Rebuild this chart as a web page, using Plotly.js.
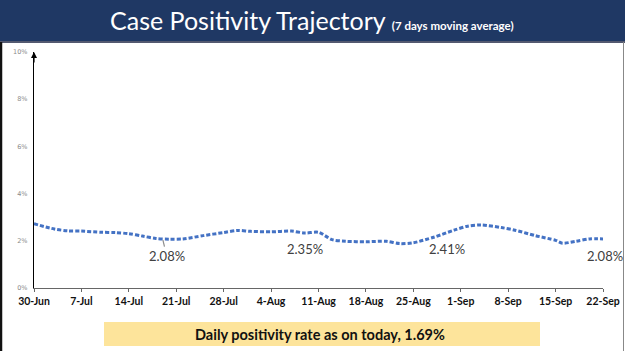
<!DOCTYPE html>
<html><head><meta charset="utf-8">
<script src="https://cdn.plot.ly/plotly-3.0.1.min.js"></script>
<style>html,body{margin:0;padding:0;background:#fff;}#chart{width:625px;height:351px;}</style>
</head><body><div id="chart"></div>
<script>
const dates = ["2020-06-30","2020-07-03","2020-07-05","2020-07-07","2020-07-10","2020-07-12","2020-07-14","2020-07-16","2020-07-18","2020-07-20","2020-07-22","2020-07-25","2020-07-28","2020-07-30","2020-08-01","2020-08-04","2020-08-07","2020-08-09","2020-08-11","2020-08-13","2020-08-15","2020-08-18","2020-08-21","2020-08-23","2020-08-25","2020-08-28","2020-08-31","2020-09-02","2020-09-04","2020-09-07","2020-09-09","2020-09-12","2020-09-15","2020-09-16","2020-09-18","2020-09-20","2020-09-22"];
const positivity = [2.72,2.5,2.42,2.41,2.36,2.35,2.30,2.20,2.10,2.07,2.08,2.22,2.35,2.44,2.40,2.38,2.41,2.33,2.36,2.05,1.98,1.96,1.98,1.88,1.92,2.15,2.45,2.62,2.67,2.56,2.45,2.22,2.02,1.90,1.98,2.08,2.08];
const tickDates = ["2020-06-30","2020-07-07","2020-07-14","2020-07-21","2020-07-28","2020-08-04","2020-08-11","2020-08-18","2020-08-25","2020-09-01","2020-09-08","2020-09-15","2020-09-22"];
const tickLabels = ["30-Jun","7-Jul","14-Jul","21-Jul","28-Jul","4-Aug","11-Aug","18-Aug","25-Aug","1-Sep","8-Sep","15-Sep","22-Sep"];
const yTicks = [0,2,4,6,8,10];
const yTickLabels = ["0%","2%","4%","6%","8%","10%"];
const labelDates = ["2020-07-19","2020-08-11","2020-09-01","2020-09-22"];
const labelValues = [2.07,2.35,2.41,2.08];
const labelTexts = ["2.08%","2.35%","2.41%","2.08%"];
const titleText = "Case Positivity Trajectory";
const subtitleText = "(7 days moving average)";
const footerText = "Daily positivity rate as on today, 1.69%";

const FONT = 'Lato, "Open Sans", sans-serif';
const pw = 625-34-22, ph = 351-52-63;
function px(x){return (x-34)/pw;}
function py(y){return (351-63-y)/ph;}

const annShift = [{xs:0,ys:0},{xs:-14,ys:-6},{xs:-14,ys:-8},{xs:2,ys:-7}];
const annotations = labelDates.map((d,i)=>(i===0 ? {
  x:d, y:labelValues[i], xref:'x', yref:'y', text:labelTexts[i],
  showarrow:true, arrowhead:0, arrowcolor:'#8c8c8c', arrowwidth:1.2, ax:4, ay:17, standoff:1,
  font:{family:FONT, size:13, color:'#404040'}
} : {
  x:d, y:labelValues[i], xref:'x', yref:'y', text:labelTexts[i], showarrow:false,
  xshift:annShift[i].xs, yshift:annShift[i].ys, yanchor:'top',
  font:{family:FONT, size:13, color:'#404040'}
}));
annotations.push({xref:'paper',yref:'paper',x:0,y:1,ax:0,ay:12,axref:'pixel',ayref:'pixel',showarrow:true,arrowhead:2,arrowsize:1,arrowwidth:1.2,arrowcolor:'#000',text:''});
annotations.push({xref:'paper',yref:'paper',x:px(311.5),y:py(20),xanchor:'center',yanchor:'middle',
  text:'<span style="font-size:25px">'+titleText+'</span>  <span style="font-size:11.5px;font-weight:bold">'+subtitleText+'</span>',
  showarrow:false,font:{family:FONT,color:'#fff'}});
annotations.push({xref:'paper',yref:'paper',x:px(320),y:py(334),xanchor:'center',yanchor:'middle',
  text:'<b>'+footerText+'</b>',showarrow:false,font:{family:FONT,size:14.5,color:'#111'}});

const layout = {
  width:625, height:351,
  margin:{l:34,r:22,t:52,b:63},
  paper_bgcolor:'#fff', plot_bgcolor:'#fff',
  showlegend:false,
  xaxis:{type:'date', range:['2020-06-30','2020-09-22'], tickvals:tickDates, ticktext:tickLabels,
    showgrid:false, zeroline:false, showline:true, linecolor:'#666', linewidth:1,
    ticks:'outside', ticklen:3, tickcolor:'#666',
    tickfont:{family:FONT, size:10.5, color:'#111', weight:'bold'}},
  yaxis:{range:[0,10], tickvals:yTicks, ticktext:yTickLabels, showgrid:false, zeroline:false,
    showline:true, linecolor:'#000', linewidth:1.2, ticks:'', ticklabelstandoff:4,
    tickfont:{family:'"DejaVu Sans", sans-serif', size:6.5, color:'#8a8a8a'}},
  shapes:[
    {type:'rect',xref:'paper',yref:'paper',x0:px(0),x1:px(625),y0:py(0),y1:py(41),fillcolor:'#1f3864',line:{width:0},layer:'below'},
    {type:'line',xref:'paper',yref:'paper',x0:px(0),x1:px(625),y0:py(42),y1:py(42),line:{color:'#1a2240',width:1.5}},
    {type:'line',xref:'paper',yref:'paper',x0:px(1),x1:px(1),y0:py(42),y1:py(351),line:{color:'#111',width:2.5}},
    {type:'line',xref:'paper',yref:'paper',x0:px(623.5),x1:px(623.5),y0:py(42),y1:py(351),line:{color:'#888',width:1}},
    {type:'rect',xref:'paper',yref:'paper',x0:px(104),x1:px(540),y0:py(322),y1:py(346),fillcolor:'#fde49b',line:{width:0},layer:'below'}
  ],
  annotations:annotations
};

const trace = {x:dates, y:positivity, type:'scatter', mode:'lines',
  line:{color:'#4472c4', width:3, dash:'4px,2px', shape:'spline', smoothing:0.8}, hoverinfo:'skip'};

Plotly.newPlot('chart',[trace],layout,{displayModeBar:false,staticPlot:true});
</script></body></html>
